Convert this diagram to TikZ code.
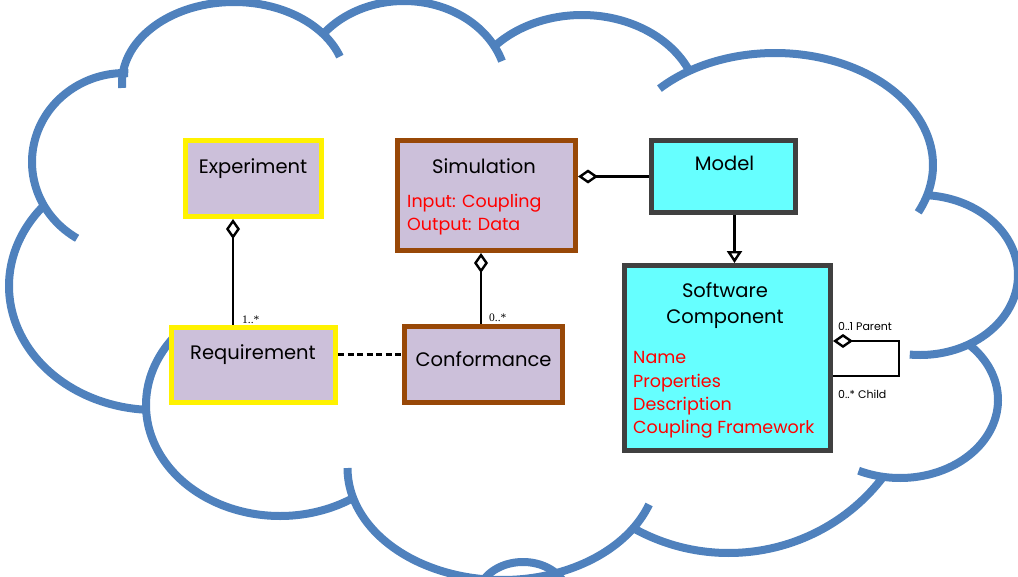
\documentclass[tikz,border=0pt]{standalone}
\usepackage{fontspec}
\setmainfont{Poppins}
\newfontfamily\multfont{Liberation Serif}
\usetikzlibrary{arrows.meta}

\definecolor{cloudblue}{RGB}{79,129,189}
\definecolor{lav}{RGB}{204,192,218}
\definecolor{aqua}{RGB}{102,255,255}
\definecolor{rust}{RGB}{152,72,7}
\definecolor{charcoal}{RGB}{64,64,64}
\definecolor{attrred}{RGB}{255,0,0}

\tikzset{
  cloudarc/.style={draw=cloudblue, line width=8pt},
  classbox/.style={rectangle, line width=5pt, inner sep=0pt},
  yellowbox/.style={classbox, draw=yellow, fill=lav},
  brownbox/.style={classbox, draw=rust, fill=lav},
  cyanbox/.style={classbox, draw=charcoal, fill=aqua},
  title/.style={anchor=base, inner sep=0pt, font=\fontsize{19.5}{23}\selectfont},
  attr/.style={anchor=base west, inner sep=0pt, text=attrred, font=\fontsize{17.5}{21}\selectfont},
  mult/.style={anchor=base west, inner sep=0pt, font=\multfont\fontsize{11.5}{13}\selectfont},
  role/.style={anchor=base west, inner sep=0pt, font=\fontsize{11}{13}\selectfont},
  link/.style={draw=black, line width=2.8pt},
  aggr/.style={link, {Diamond[open, fill=white, length=20pt, width=14pt, line width=2.4pt]}-},
  gen/.style={link, -{Triangle[open, fill=white, length=12pt, width=15pt, line width=2.4pt]}},
}

% one elliptic cloud arc: centre (#1,#2), radii #3 and #4, angles #5 to #6
\newcommand{\ellarc}[6]{%
  \draw[cloudarc] plot[domain=#5:#6, samples=90, variable=\t]
    ({#1+#3*cos(\t)},{#2+#4*sin(\t)});}

\begin{document}
\begin{tikzpicture}[x=1pt, y=-1pt]
\useasboundingbox (0,0) rectangle (1018,576);

% cloud outline: overlapping arcs, several ending in a short inner tail
\begin{scope}
\clip (0,0) rectangle (1018,576);
\ellarc{234}{83}{112}{81}{176.5}{341}
\ellarc{404}{88}{103}{87}{218}{342}
\ellarc{582}{108}{117}{93}{223}{338}
\ellarc{775}{165}{158}{112}{223}{385}
\ellarc{920}{275}{98}{80}{275}{456}
\ellarc{900}{400}{98}{78}{-47}{115}
\ellarc{728.7}{363}{193}{190}{37}{120}
\ellarc{502.5}{468}{155}{112}{19}{180}
\ellarc{523}{597}{45}{35}{180}{360}
\ellarc{280}{405}{134}{111}{57.5}{218}
\ellarc{155}{286}{146}{124}{93}{220}
\ellarc{125}{162}{93}{89}{121}{272}
\end{scope}

% classes
\node[yellowbox, minimum width=136pt, minimum height=76pt] (exp) at (253.5,178.5) {};
\node[brownbox, minimum width=178pt, minimum height=110pt] (sim) at (486.5,195.5) {};
\node[cyanbox, minimum width=144pt, minimum height=72pt] (mod) at (723.5,176.5) {};
\node[cyanbox, minimum width=206pt, minimum height=185pt] (sw) at (727.5,358) {};
\node[yellowbox, minimum width=164pt, minimum height=75pt] (req) at (253.5,365) {};
\node[brownbox, minimum width=158pt, minimum height=76pt] (conf) at (483.5,364.5) {};

% class names and attributes
\node[title] (expT) at (253,173) {Experiment};
\node[title] (simT) at (484,173) {Simulation};
\node[attr] (simA) at (407,207.5) {Input: Coupling};
\node[attr] (simB) at (407,230) {Output: Data};
\node[title] (modT) at (724.5,170) {Model};
\node[title] (swT1) at (725,297) {Software};
\node[title] (swT2) at (725,323) {Component};
\node[attr] (swA) at (633,363) {Name};
\node[attr] (swB) at (633,387) {Properties};
\node[attr] (swC) at (633,410) {Description};
\node[attr] (swD) at (633,433) {Coupling Framework};
\node[title] (reqT) at (253,359) {Requirement};
\node[title] (confT) at (483.5,366) {Conformance};

% connector guides
\coordinate (xe) at (233,0);
\coordinate (xs) at (481,0);
\coordinate (xm) at (734.5,0);
\coordinate (yr) at (0,354);
\coordinate (loopA) at (899,341);
\coordinate (loopB) at (899,376);

% associations
\draw[aggr] (exp.south -| xe) -- (req.north -| xe);
\draw[aggr] (sim.south -| xs) -- (conf.north -| xs);
\draw[aggr] (sim.east |- mod.west) -- (mod.west);
\draw[gen] (mod.south -| xm) -- (sw.north -| xm);
\draw[link, line width=3pt, dash pattern=on 6pt off 3.5pt] (req.east |- yr) -- (conf.west |- yr);
\draw[aggr] (sw.east |- loopA) -- (loopA) -- (loopB) -- (sw.east |- loopB);

% multiplicities and roles
\node[mult] (m1) at (242,323) {1..*};
\node[mult] (m2) at (489,321) {0..*};
\node[role] (rp) at (838,330) {0..1 Parent};
\node[role] (rc) at (838,398) {0..* Child};
\end{tikzpicture}
\end{document}
